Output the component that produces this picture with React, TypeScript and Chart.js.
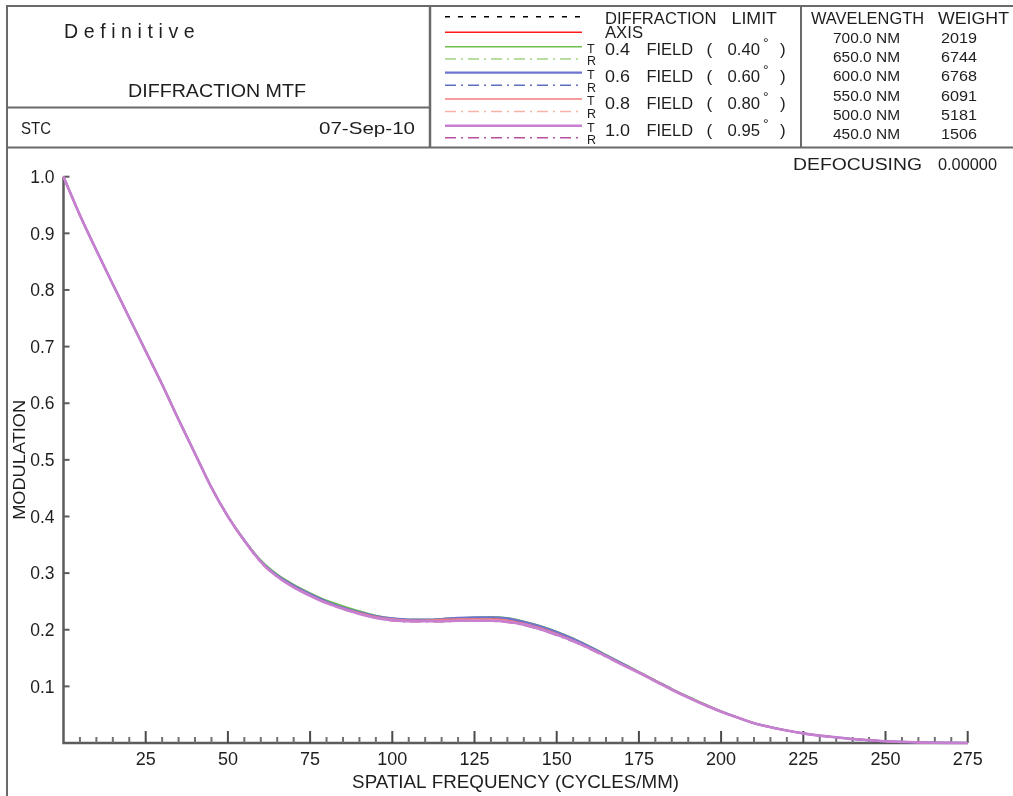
import React, { useEffect, useRef } from "react";
import { Chart, registerables } from "chart.js";

Chart.register(...registerables);

// ---------- data ----------
const FREQ = [0, 5, 10, 15, 20, 25, 30, 35, 40, 45, 50, 55, 60, 65, 70, 75, 80, 85, 90, 95, 100, 105, 110, 115, 120, 125, 130, 135, 140, 145, 150, 155, 160, 165, 170, 175, 180, 185, 190, 195, 200, 205, 210, 215, 220, 225, 230, 235, 240, 245, 250, 255, 260, 265, 270, 275];

const DIFF_LIMIT = [1.0, 0.932, 0.87, 0.81, 0.751, 0.692, 0.633, 0.571, 0.511, 0.451, 0.4, 0.357, 0.32, 0.294, 0.276, 0.261, 0.248, 0.238, 0.23, 0.223, 0.219, 0.217, 0.217, 0.218, 0.219, 0.22, 0.22, 0.218, 0.212, 0.204, 0.194, 0.182, 0.169, 0.154, 0.139, 0.125, 0.11, 0.095, 0.081, 0.068, 0.056, 0.045, 0.035, 0.028, 0.022, 0.017, 0.013, 0.01, 0.007, 0.005, 0.003, 0.002, 0.001, 0.0005, 0.0002, 0.0];
const AXIS = [1.0, 0.932, 0.87, 0.81, 0.751, 0.692, 0.633, 0.571, 0.511, 0.451, 0.4, 0.357, 0.32, 0.294, 0.276, 0.261, 0.248, 0.238, 0.23, 0.223, 0.219, 0.217, 0.217, 0.218, 0.219, 0.22, 0.22, 0.218, 0.212, 0.204, 0.194, 0.182, 0.169, 0.154, 0.139, 0.125, 0.11, 0.095, 0.081, 0.068, 0.056, 0.045, 0.035, 0.028, 0.022, 0.017, 0.013, 0.01, 0.007, 0.005, 0.003, 0.002, 0.001, 0.0005, 0.0002, 0.0];
const F04_T = [1.0, 0.932, 0.87, 0.81, 0.751, 0.693, 0.634, 0.572, 0.512, 0.452, 0.401, 0.359, 0.323, 0.298, 0.28, 0.265, 0.252, 0.242, 0.233, 0.225, 0.22, 0.218, 0.218, 0.219, 0.221, 0.222, 0.223, 0.221, 0.215, 0.207, 0.197, 0.185, 0.171, 0.156, 0.141, 0.126, 0.111, 0.096, 0.082, 0.069, 0.056, 0.045, 0.035, 0.028, 0.022, 0.017, 0.013, 0.01, 0.007, 0.005, 0.003, 0.002, 0.001, 0.0005, 0.0002, 0.0];
const F04_R = [1.0, 0.932, 0.87, 0.81, 0.751, 0.692, 0.633, 0.571, 0.511, 0.451, 0.4, 0.358, 0.322, 0.296, 0.278, 0.263, 0.25, 0.24, 0.231, 0.224, 0.219, 0.218, 0.218, 0.219, 0.22, 0.221, 0.221, 0.219, 0.213, 0.205, 0.195, 0.183, 0.17, 0.155, 0.14, 0.125, 0.11, 0.095, 0.081, 0.068, 0.056, 0.045, 0.035, 0.028, 0.022, 0.017, 0.013, 0.01, 0.007, 0.005, 0.003, 0.002, 0.001, 0.0005, 0.0002, 0.0];
const F06_T = [1.0, 0.932, 0.87, 0.81, 0.751, 0.692, 0.633, 0.571, 0.511, 0.451, 0.4, 0.358, 0.321, 0.296, 0.278, 0.263, 0.25, 0.239, 0.231, 0.224, 0.22, 0.218, 0.218, 0.219, 0.221, 0.222, 0.222, 0.22, 0.214, 0.206, 0.196, 0.184, 0.17, 0.155, 0.14, 0.125, 0.11, 0.095, 0.081, 0.068, 0.056, 0.045, 0.035, 0.028, 0.022, 0.017, 0.013, 0.01, 0.007, 0.005, 0.003, 0.002, 0.001, 0.0005, 0.0002, 0.0];
const F06_R = [1.0, 0.932, 0.87, 0.81, 0.751, 0.692, 0.633, 0.571, 0.511, 0.451, 0.4, 0.357, 0.32, 0.295, 0.277, 0.262, 0.249, 0.238, 0.23, 0.223, 0.219, 0.217, 0.217, 0.218, 0.219, 0.22, 0.221, 0.219, 0.213, 0.205, 0.195, 0.183, 0.169, 0.154, 0.139, 0.125, 0.11, 0.095, 0.081, 0.068, 0.056, 0.045, 0.035, 0.028, 0.022, 0.017, 0.013, 0.01, 0.007, 0.005, 0.003, 0.002, 0.001, 0.0005, 0.0002, 0.0];
const F08_T = [1.0, 0.932, 0.87, 0.81, 0.751, 0.692, 0.633, 0.571, 0.511, 0.451, 0.4, 0.357, 0.32, 0.294, 0.276, 0.261, 0.248, 0.238, 0.23, 0.223, 0.219, 0.217, 0.217, 0.218, 0.219, 0.219, 0.219, 0.217, 0.211, 0.203, 0.193, 0.181, 0.168, 0.154, 0.139, 0.125, 0.11, 0.095, 0.081, 0.068, 0.056, 0.045, 0.035, 0.028, 0.022, 0.017, 0.013, 0.01, 0.007, 0.005, 0.003, 0.002, 0.001, 0.0005, 0.0002, 0.0];
const F08_R = [1.0, 0.932, 0.87, 0.81, 0.751, 0.692, 0.633, 0.571, 0.511, 0.451, 0.4, 0.357, 0.32, 0.294, 0.276, 0.261, 0.248, 0.237, 0.229, 0.222, 0.218, 0.216, 0.216, 0.217, 0.218, 0.218, 0.218, 0.216, 0.21, 0.202, 0.192, 0.18, 0.167, 0.153, 0.138, 0.124, 0.11, 0.095, 0.081, 0.068, 0.056, 0.045, 0.035, 0.028, 0.022, 0.017, 0.013, 0.01, 0.007, 0.005, 0.003, 0.002, 0.001, 0.0005, 0.0002, 0.0];
const F10_T = [1.0, 0.932, 0.87, 0.81, 0.751, 0.692, 0.633, 0.571, 0.511, 0.451, 0.4, 0.357, 0.32, 0.294, 0.275, 0.26, 0.247, 0.237, 0.228, 0.221, 0.217, 0.215, 0.215, 0.215, 0.216, 0.216, 0.216, 0.214, 0.209, 0.201, 0.191, 0.18, 0.167, 0.153, 0.138, 0.124, 0.109, 0.094, 0.08, 0.067, 0.055, 0.045, 0.035, 0.028, 0.022, 0.017, 0.013, 0.01, 0.007, 0.005, 0.003, 0.002, 0.001, 0.0005, 0.0002, 0.0];
const F10_R = [1.0, 0.932, 0.87, 0.81, 0.751, 0.692, 0.633, 0.571, 0.511, 0.451, 0.4, 0.357, 0.319, 0.293, 0.275, 0.26, 0.247, 0.236, 0.228, 0.221, 0.216, 0.214, 0.214, 0.214, 0.215, 0.215, 0.215, 0.213, 0.208, 0.2, 0.19, 0.179, 0.166, 0.152, 0.138, 0.124, 0.109, 0.094, 0.08, 0.067, 0.055, 0.045, 0.035, 0.028, 0.022, 0.017, 0.013, 0.01, 0.007, 0.005, 0.003, 0.002, 0.001, 0.0005, 0.0002, 0.0];

const X_TICKS = [25, 50, 75, 100, 125, 150, 175, 200, 225, 250, 275];
const Y_TICKS = [0.1, 0.2, 0.3, 0.4, 0.5, 0.6, 0.7, 0.8, 0.9, 1.0];
const Y_TICK_LABELS = ["0.1", "0.2", "0.3", "0.4", "0.5", "0.6", "0.7", "0.8", "0.9", "1.0"];
const X_MIN = 0;
const X_MAX = 275;
const MINOR_STEP = 5;

const FIELDS = ["0.4", "0.6", "0.8", "1.0"];
const FIELD_ANGLES = ["0.40", "0.60", "0.80", "0.95"];
const WAVELENGTHS = ["700.0 NM", "650.0 NM", "600.0 NM", "550.0 NM", "500.0 NM", "450.0 NM"];
const WEIGHTS = ["2019", "6744", "6768", "6091", "5181", "1506"];

const TITLE = "Definitive";
const SUBTITLE = "DIFFRACTION MTF";
const FOOT_LEFT = "STC";
const FOOT_DATE = "07-Sep-10";
const DEFOCUS = "0.00000";
const X_TITLE = "SPATIAL FREQUENCY (CYCLES/MM)";
const Y_TITLE = "MODULATION";

// ---------- styles ----------
const DASH_DOT = [11, 5, 2, 5];
const SERIES = [
  { label: "1.0 T", data: F10_T, color: "#c77fd0", width: 2.6, dash: [] as number[] },
  { label: "1.0 R", data: F10_R, color: "#b8509e", width: 1.6, dash: DASH_DOT },
  { label: "0.8 T", data: F08_T, color: "#f27c7c", width: 1.4, dash: [] as number[] },
  { label: "0.8 R", data: F08_R, color: "#f7b2a6", width: 1.6, dash: DASH_DOT },
  { label: "0.6 T", data: F06_T, color: "#6f74cf", width: 2.2, dash: [] as number[] },
  { label: "0.6 R", data: F06_R, color: "#5c70bf", width: 1.4, dash: DASH_DOT },
  { label: "0.4 T", data: F04_T, color: "#6cbf4c", width: 1.6, dash: [] as number[] },
  { label: "0.4 R", data: F04_R, color: "#a0d282", width: 1.6, dash: DASH_DOT },
  { label: "AXIS", data: AXIS, color: "#ff1a1a", width: 1.4, dash: [] as number[] },
  { label: "DIFFRACTION LIMIT", data: DIFF_LIMIT, color: "#000000", width: 1.2, dash: [5, 8] },
];

const FONT = '"Liberation Sans", Arial, Helvetica, sans-serif';
const TEXT = "#1e1e1e";
const FRAME = "#6a6a6a";

// width: fit by horizontal scaling; spacing: extra letter spacing
function drawText(
  ctx: CanvasRenderingContext2D,
  s: string,
  x: number,
  cy: number,
  size: number,
  align: "left" | "center" | "right" = "left",
  width?: number,
  spacing = 0
) {
  ctx.save();
  ctx.font = `${size}px ${FONT}`;
  ctx.fillStyle = TEXT;
  ctx.textBaseline = "alphabetic";
  ctx.textAlign = "left";
  const base = cy + size * 0.358;
  if (spacing > 0) {
    const chars = Array.from(s);
    const cw = chars.map((c) => ctx.measureText(c).width);
    const w = cw.reduce((a, b) => a + b, 0) + spacing * (chars.length - 1);
    let px = align === "left" ? x : align === "center" ? x - w / 2 : x - w;
    chars.forEach((c, i) => {
      ctx.fillText(c, px, base);
      px += cw[i] + spacing;
    });
    ctx.restore();
    return;
  }
  const nat = ctx.measureText(s).width;
  const w = width ?? nat;
  const left = align === "left" ? x : align === "center" ? x - w / 2 : x - w;
  ctx.translate(left, base);
  ctx.scale(w / nat, 1);
  ctx.fillText(s, 0, 0);
  ctx.restore();
}

function line(ctx: CanvasRenderingContext2D, x1: number, y1: number, x2: number, y2: number) {
  ctx.beginPath();
  ctx.moveTo(x1, y1);
  ctx.lineTo(x2, y2);
  ctx.stroke();
}

const decor = {
  id: "decor",
  beforeDraw(chart: any) {
    const ctx = chart.ctx as CanvasRenderingContext2D;
    ctx.save();
    ctx.fillStyle = "#ffffff";
    ctx.fillRect(0, 0, chart.width, chart.height);
    ctx.restore();
  },
  beforeDatasetsDraw(chart: any) {
    const ctx = chart.ctx as CanvasRenderingContext2D;
    const xs = chart.scales.x;
    const ys = chart.scales.y;
    const x0 = xs.getPixelForValue(X_MIN);
    const x1 = xs.getPixelForValue(X_MAX);
    const yb = ys.getPixelForValue(0);
    const yt = ys.getPixelForValue(1);
    ctx.save();
    ctx.strokeStyle = "#5c5c5c";
    ctx.lineWidth = 2.5;
    ctx.beginPath();
    ctx.moveTo(x0, yt);
    ctx.lineTo(x0, yb);
    ctx.lineTo(x1, yb);
    ctx.stroke();
    ctx.lineWidth = 2;
    Y_TICKS.forEach((v) => {
      const py = ys.getPixelForValue(v);
      line(ctx, x0, py, x0 + 6, py);
    });
    for (let f = X_MIN + MINOR_STEP; f <= X_MAX; f += MINOR_STEP) {
      const px = xs.getPixelForValue(f);
      const major = X_TICKS.includes(f);
      ctx.strokeStyle = major ? "#4a4a4a" : "#707070";
      line(ctx, px, yb, px, yb - (major ? 12 : 6));
    }
    ctx.restore();
  },
  afterDraw(chart: any) {
    const ctx = chart.ctx as CanvasRenderingContext2D;
    const xs = chart.scales.x;
    const ys = chart.scales.y;
    const W = chart.width;
    const H = chart.height;

    // frame
    ctx.save();
    ctx.strokeStyle = FRAME;
    ctx.lineWidth = 2;
    line(ctx, 7, 6, W, 6);
    line(ctx, 7, 5, 7, H);
    line(ctx, 7, 107.5, 430, 107.5);
    line(ctx, 7, 147.5, W, 147.5);
    ctx.lineWidth = 2.5;
    line(ctx, 430, 6, 430, 147.5);
    ctx.lineWidth = 2;
    line(ctx, 801, 6, 801, 147.5);
    ctx.restore();

    // header left
    drawText(ctx, TITLE, 64, 31.5, 19.5, "left", undefined, 5.6);
    drawText(ctx, SUBTITLE, 128, 90, 18.5, "left", 178);
    drawText(ctx, FOOT_LEFT, 21, 128, 17, "left", 30);
    drawText(ctx, FOOT_DATE, 319, 128, 17, "left", 96);

    // legend
    const LX0 = 445;
    const LX1 = 582;
    const lineYs = [16.7, 32.3, 46.7, 59, 72.7, 85.2, 99, 111.5, 125.7, 137.7];
    const legendOrder = [9, 8, 6, 7, 4, 5, 2, 3, 0, 1];
    legendOrder.forEach((si, k) => {
      const s = SERIES[si];
      ctx.save();
      ctx.strokeStyle = s.color;
      ctx.lineWidth = si === 9 ? 1.5 : Math.max(1.5, s.width);
      ctx.setLineDash(s.dash);
      line(ctx, LX0, lineYs[k], LX1, lineYs[k]);
      ctx.restore();
    });
    drawText(ctx, "DIFFRACTION", 605, 18.3, 16, "left", 111.5);
    drawText(ctx, "LIMIT", 731.5, 18.3, 16, "left", 45.5);
    drawText(ctx, "AXIS", 605, 32.5, 16, "left", 38);
    const rowY = [49.2, 75.8, 103, 130.3];
    FIELDS.forEach((f, i) => {
      const cy = rowY[i];
      drawText(ctx, f, 605, cy, 17, "left", 25);
      drawText(ctx, "FIELD", 646.5, cy, 17, "left", 46.5);
      drawText(ctx, "(", 706.5, cy, 17, "left");
      drawText(ctx, FIELD_ANGLES[i], 727.5, cy, 17, "left", 32.5);
      drawText(ctx, "°", 763, cy - 6, 14, "left");
      drawText(ctx, ")", 780, cy, 17, "left");
      drawText(ctx, "T", 587, lineYs[2 + i * 2] + 1.5, 12.5, "left");
      drawText(ctx, "R", 587, lineYs[3 + i * 2] + 2, 12.5, "left");
    });

    // wavelength table
    drawText(ctx, "WAVELENGTH", 811, 18.3, 16, "left", 113);
    drawText(ctx, "WEIGHT", 938, 18.3, 16, "left", 71);
    const wY = [37.3, 56.6, 75.9, 95.1, 114.3, 133.5];
    WAVELENGTHS.forEach((w, i) => {
      drawText(ctx, w, 833, wY[i], 15.5, "left", 67);
      drawText(ctx, WEIGHTS[i], 941, wY[i], 15.5, "left", 36);
    });
    drawText(ctx, "DEFOCUSING", 793, 164, 16, "left", 129);
    drawText(ctx, DEFOCUS, 938, 164, 16, "left", 59);

    // tick labels
    const yb = ys.getPixelForValue(0);
    X_TICKS.forEach((t) => {
      drawText(ctx, String(t), xs.getPixelForValue(t), yb + 16, 18, "center");
    });
    const x0 = xs.getPixelForValue(X_MIN);
    Y_TICKS.forEach((v, i) => {
      drawText(ctx, Y_TICK_LABELS[i], x0 - 9, ys.getPixelForValue(v), 17.5, "right");
    });

    // axis titles
    const cx = (xs.getPixelForValue(X_MIN) + xs.getPixelForValue(X_MAX)) / 2;
    drawText(ctx, X_TITLE, cx, 781.5, 18.5, "center", 327);
    const cyMid = (ys.getPixelForValue(0) + ys.getPixelForValue(1)) / 2;
    ctx.save();
    ctx.translate(19.5, cyMid);
    ctx.rotate(-Math.PI / 2);
    drawText(ctx, Y_TITLE, 0, 0, 16, "center", 120);
    ctx.restore();
  },
};

export default function App() {
  const ref = useRef<HTMLCanvasElement | null>(null);
  useEffect(() => {
    document.body.style.margin = "0";
    const canvas = ref.current;
    if (!canvas) return;
    const chart = new Chart(canvas, {
      type: "line",
      data: {
        datasets: SERIES.map((s) => ({
          label: s.label,
          data: FREQ.map((f, i) => ({ x: f, y: s.data[i] })),
          borderColor: s.color,
          backgroundColor: s.color,
          borderWidth: s.width,
          borderDash: s.dash,
          pointRadius: 0,
          fill: false,
          cubicInterpolationMode: "monotone" as const,
          clip: 6,
        })),
      },
      options: {
        responsive: false,
        animation: false,
        devicePixelRatio: 1,
        events: [],
        layout: {
          padding: { left: 63.5, right: 1013 - 967.7, top: 176.7, bottom: 796 - 743 },
        },
        plugins: {
          legend: { display: false },
          tooltip: { enabled: false },
          title: { display: false },
        },
        scales: {
          x: { type: "linear", min: X_MIN, max: X_MAX, display: false },
          y: { type: "linear", min: 0, max: 1, display: false },
        },
      },
      plugins: [decor],
    });
    return () => chart.destroy();
  }, []);
  return <canvas ref={ref} width={1013} height={796} style={{ display: "block" }} />;
}
